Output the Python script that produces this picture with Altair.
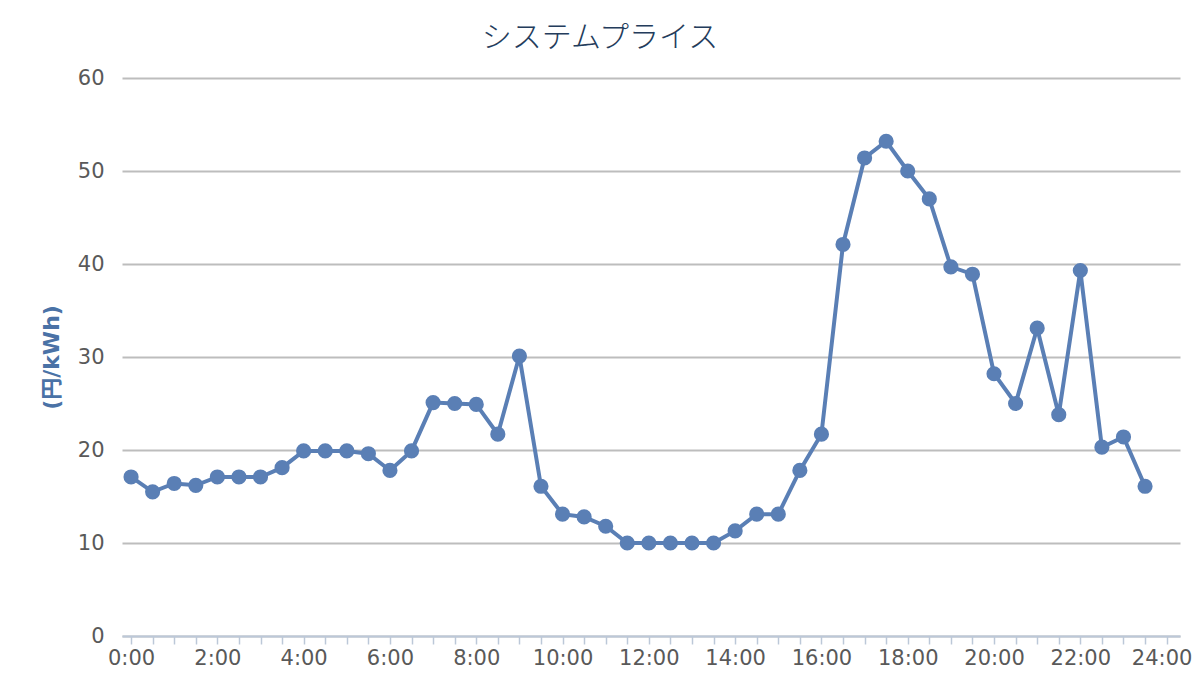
import altair as alt
import pandas as pd

times = ["0:00", "0:30", "1:00", "1:30", "2:00", "2:30", "3:00", "3:30",
         "4:00", "4:30", "5:00", "5:30", "6:00", "6:30", "7:00", "7:30",
         "8:00", "8:30", "9:00", "9:30", "10:00", "10:30", "11:00", "11:30",
         "12:00", "12:30", "13:00", "13:30", "14:00", "14:30", "15:00", "15:30",
         "16:00", "16:30", "17:00", "17:30", "18:00", "18:30", "19:00", "19:30",
         "20:00", "20:30", "21:00", "21:30", "22:00", "22:30", "23:00", "23:30"]
prices = [17.1, 15.5, 16.4, 16.2, 17.1, 17.1, 17.1, 18.1,
          19.9, 19.9, 19.9, 19.6, 17.8, 19.9, 25.1, 25.0,
          24.9, 21.7, 30.1, 16.1, 13.1, 12.8, 11.8, 10.0,
          10.0, 10.0, 10.0, 10.0, 11.3, 13.1, 13.1, 17.8,
          21.7, 42.1, 51.4, 53.2, 50.0, 47.0, 39.7, 38.9,
          28.2, 25.0, 33.1, 23.8, 39.3, 20.3, 21.4, 16.1]
tick_hours = [h / 2 for h in range(0, 49)]
y_ticks = [0, 10, 20, 30, 40, 50, 60]

df = pd.DataFrame({"time": times, "price": prices})
df["hour"] = df["time"].apply(lambda s: int(s.split(":")[0]) + int(s.split(":")[1]) / 60)

LINE = "#5a7fb5"
FONT = "DejaVu Sans"

x = alt.X("hour:Q",
          scale=alt.Scale(domain=[-0.21, 24.31], nice=False, zero=False),
          axis=alt.Axis(values=tick_hours, title=None, grid=False,
                        labelExpr="datum.value % 2 == 0 ? datum.value + ':00' : ''",
                        labelOverlap=False, labelFlush=False,
                        labelOffset={"condition": {"test": "datum.value == 24", "value": -5},
                                     "value": 0},
                        domainColor="#bcc8d8", domainWidth=2,
                        tickColor="#bcc8d8", tickWidth=1.5, tickSize=8,
                        labelPadding=3, labelFontSize=21, labelColor="#595959",
                        labelFont=FONT, zindex=1))
y = alt.Y("price:Q",
          scale=alt.Scale(domain=[0, 60], nice=False),
          axis=alt.Axis(values=y_ticks, title="(円/kWh)", domain=False, ticks=False,
                        gridColor="#bdbdbd", gridWidth=2,
                        labelPadding=18, labelFontSize=21, labelColor="#595959",
                        labelFont=FONT,
                        titleFont="DejaVu Sans, Noto Sans CJK JP", titleFontSize=22,
                        titleFontWeight="bold", titleColor="#4a72a6",
                        titlePadding=14))

base = alt.Chart(df).encode(x=x, y=y)
line = base.mark_line(color=LINE, strokeWidth=4)
pts = base.mark_point(filled=True, color=LINE, size=230, opacity=1)

chart = (line + pts).properties(
    width=1058, height=558,
    title=alt.TitleParams("システムプライス", font="Noto Sans CJK JP", fontSize=30,
                          fontWeight=300, color="#243c5c", anchor="middle",
                          offset=14, dx=-51),
    autosize=alt.AutoSizeParams(type="none"),
    padding={"left": 114, "top": 70, "right": 12, "bottom": 50},
).configure(background="white").configure_view(strokeWidth=0, stroke="transparent")

chart.save("out.html", embed_options={"renderer": "svg", "actions": False})
